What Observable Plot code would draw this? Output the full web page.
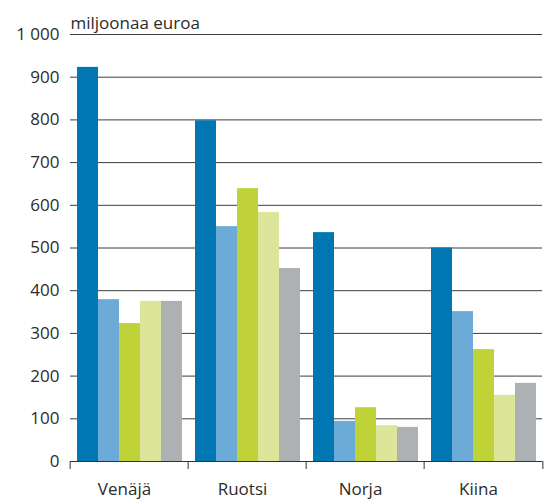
<!DOCTYPE html>
<html>
<head>
<meta charset="utf-8">
<script src="https://cdn.jsdelivr.net/npm/d3@7"></script>
<script src="https://cdn.jsdelivr.net/npm/@observablehq/plot@0.6"></script>
<style>
  body { margin: 0; background: #fff; }
  #chart svg { overflow: visible; }
</style>
</head>
<body>
<div id="chart"></div>
<script>
// Categories (countries) and series
const categories = ["Venäjä", "Ruotsi", "Norja", "Kiina"];
const series = ["sarja 1", "sarja 2", "sarja 3", "sarja 4", "sarja 5"];

// Values per country, in series order (million euros)
const venaja = [923, 379, 323, 375, 375];
const ruotsi = [798, 550, 639, 583, 452];
const norja  = [536,  94, 126,  84,  80];
const kiina  = [500, 351, 262, 155, 183];

const seriesColors = ["#0076b3", "#6cabd7", "#bfd339", "#dde59b", "#aeb1b4"];
const yTicks = [0, 100, 200, 300, 400, 500, 600, 700, 800, 900, 1000];
const unitLabel = "miljoonaa euroa";

const valuesByCategory = [venaja, ruotsi, norja, kiina];
const data = categories.flatMap((c, ci) =>
  series.map((s, si) => ({category: c, series: s, value: valuesByCategory[ci][si]}))
);

const W = 545, H = 499, ML = 68, MR = 2, MT = 34, MB = 38;
const bw = (W - ML - MR) / categories.length;
const fmt = d => d3.format(",")(d).replace(/,/g, " ");

const chart = Plot.plot({
  width: W,
  height: H,
  marginTop: MT,
  marginBottom: MB,
  marginLeft: ML,
  marginRight: MR,
  style: {
    fontFamily: "'Open Sans', 'Noto Sans', sans-serif",
    fontSize: "17px",
    color: "#2b2b2b",
    background: "#fff",
    overflow: "visible"
  },
  fx: {domain: categories, padding: 0, label: null},
  x: {domain: series, paddingInner: 0, paddingOuter: 0.3, axis: null},
  y: {domain: [0, 1000]},
  color: {domain: series, range: seriesColors},
  marks: [
    Plot.gridY(yTicks, {stroke: "#3d3d3d", strokeOpacity: 1, strokeWidth: 1}),
    Plot.barY(data, {fx: "category", x: "series", y: "value", fill: "series"}),
    Plot.ruleY([0], {stroke: "#333", strokeWidth: 1}),
    Plot.ruleX([0], {x: null, y1: 0, y2: 0, insetBottom: -8, dx: -bw / 2, stroke: "#333"}),
    Plot.ruleX([0], {x: null, y1: 0, y2: 0, insetBottom: -8, dx: bw / 2, stroke: "#333", facetAnchor: "right"}),
    Plot.axisY(yTicks, {tickSize: 0, tickPadding: 11, tickFormat: fmt, label: null}),
    Plot.axisFx({anchor: "bottom", tickSize: 0, tickPadding: 21, dx: -5, label: null}),
    Plot.text([unitLabel], {
      frameAnchor: "top-left",
      facetAnchor: "left",
      textAnchor: "start",
      lineAnchor: "bottom",
      dy: -6,
      fill: "#2b2b2b"
    })
  ]
});

document.getElementById("chart").appendChild(chart);
</script>
</body>
</html>
